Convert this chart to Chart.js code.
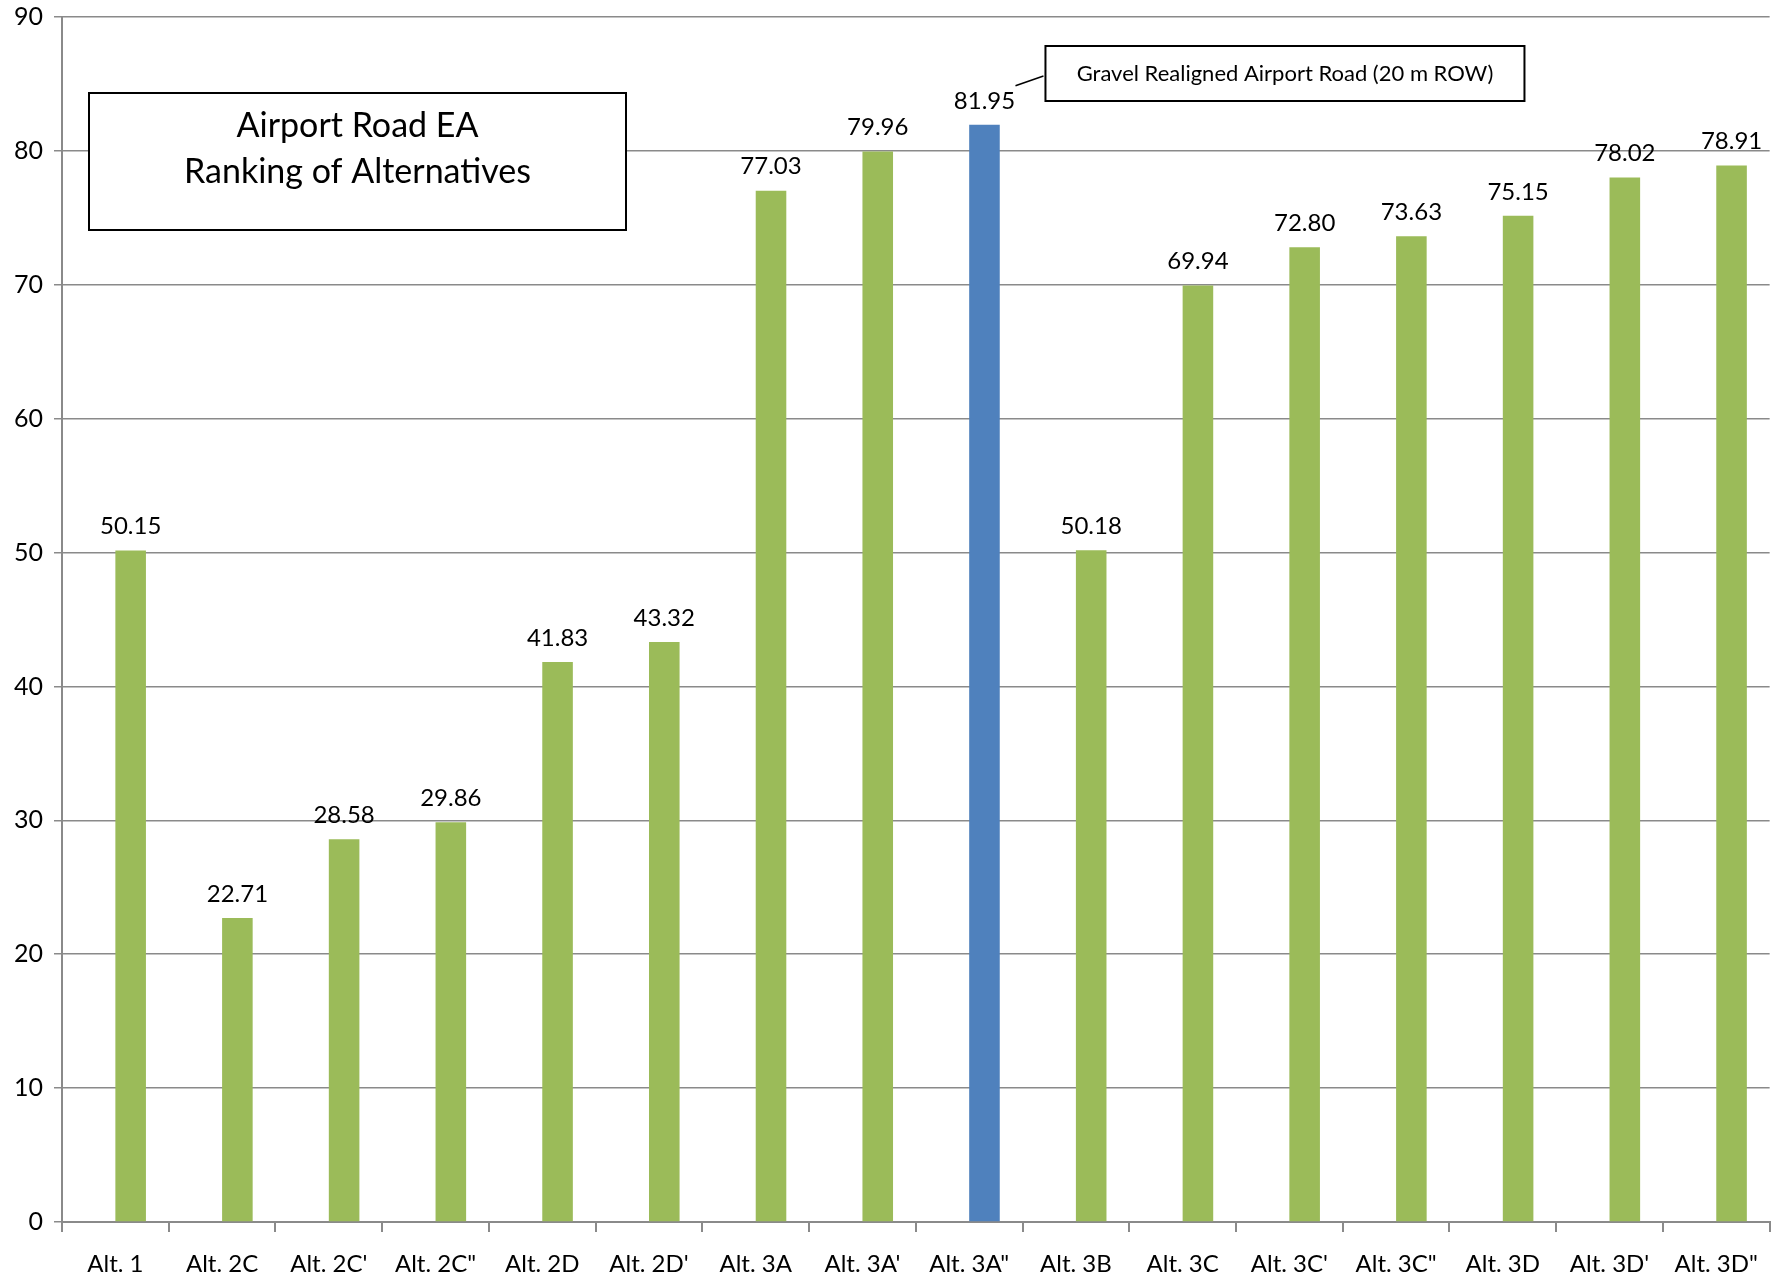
<!DOCTYPE html>
<html>
<head>
<meta charset="utf-8">
<script src="https://cdn.jsdelivr.net/npm/chart.js@4/dist/chart.umd.min.js"></script>
<style>
  html, body { margin: 0; padding: 0; background: #ffffff; }
  #wrap { width: 1776px; height: 1283px; }
</style>
</head>
<body>
<div id="wrap"><canvas id="c" width="1776" height="1283"></canvas></div>
<script>
// Alternatives and their ranking scores
const categories = ["Alt. 1", "Alt. 2C", "Alt. 2C'", "Alt. 2C\"", "Alt. 2D", "Alt. 2D'", "Alt. 3A", "Alt. 3A'", "Alt. 3A\"", "Alt. 3B", "Alt. 3C", "Alt. 3C'", "Alt. 3C\"", "Alt. 3D", "Alt. 3D'", "Alt. 3D\""];
const scores = [50.15, 22.71, 28.58, 29.86, 41.83, 43.32, 77.03, 79.96, 81.95, 50.18, 69.94, 72.80, 73.63, 75.15, 78.02, 78.91];
// first series of the workbook has no values; it only reserves the left slot
const emptySeries = categories.map(() => null);
const highlightIndex = 8;
const titleLines = ["Airport Road EA", "Ranking of Alternatives"];
const calloutText = "Gravel Realigned Airport Road (20 m ROW)";

const GREEN = '#9BBB59';
const BLUE = '#4F81BD';
const FONT = 'Lato, "Open Sans", sans-serif';

const barColors = scores.map((v, i) => i === highlightIndex ? BLUE : GREEN);

// Value labels, the title box and the callout for the highlighted bar
const overlay = {
  id: 'overlay',
  afterDatasetsDraw(chart) {
    const ctx = chart.ctx;
    const area = chart.chartArea;
    const meta = chart.getDatasetMeta(1);
    ctx.save();
    ctx.fillStyle = '#000';
    ctx.font = '24px ' + FONT;
    ctx.textAlign = 'center';
    ctx.textBaseline = 'bottom';
    meta.data.forEach((bar, i) => {
      ctx.fillText(scores[i].toFixed(2), bar.x, bar.y - 12);
    });

    // title box
    const tx = area.left + 27, ty = area.top + 76, tw = 537, th = 137;
    ctx.fillStyle = '#fff';
    ctx.fillRect(tx, ty, tw, th);
    ctx.strokeStyle = '#000';
    ctx.lineWidth = 2;
    ctx.strokeRect(tx, ty, tw, th);
    ctx.fillStyle = '#000';
    ctx.font = '34px ' + FONT;
    ctx.textBaseline = 'middle';
    ctx.fillText(titleLines[0], tx + tw / 2, ty + 33);
    ctx.fillText(titleLines[1], tx + tw / 2, ty + 79);

    // callout for the highlighted bar
    const hb = meta.data[highlightIndex];
    const bx = hb.x + 61, by = area.top + 29, bw = 479, bh = 55;
    ctx.fillStyle = '#fff';
    ctx.fillRect(bx, by, bw, bh);
    ctx.strokeRect(bx, by, bw, bh);
    ctx.fillStyle = '#000';
    ctx.font = '22px ' + FONT;
    ctx.fillText(calloutText, bx + bw / 2, by + bh / 2);
    ctx.lineWidth = 1.5;
    ctx.beginPath();
    ctx.moveTo(hb.x + 31, hb.y - 39);
    ctx.lineTo(bx - 2, by + 30);
    ctx.stroke();
    ctx.restore();
  }
};

new Chart(document.getElementById('c'), {
  type: 'bar',
  data: {
    labels: categories,
    datasets: [{
      data: emptySeries,
      backgroundColor: GREEN,
      borderWidth: 0,
      categoryPercentage: 0.573,
      barPercentage: 1
    }, {
      data: scores,
      backgroundColor: barColors,
      borderWidth: 0,
      categoryPercentage: 0.573,
      barPercentage: 1
    }]
  },
  options: {
    responsive: false,
    animation: false,
    devicePixelRatio: 1,
    layout: { padding: { top: 17, right: 2, left: 0, bottom: 0 } },
    plugins: { legend: { display: false }, tooltip: { enabled: false } },
    scales: {
      x: {
        grid: { display: true, drawOnChartArea: false, drawTicks: true, tickLength: 10, color: '#8a8a8a', lineWidth: 2, offset: true },
        border: { display: true, color: '#8a8a8a', width: 2 },
        ticks: { color: '#000', font: { size: 24, family: FONT }, padding: 18, maxRotation: 0, autoSkip: false },
        afterFit(s) { s.height = 61; }
      },
      y: {
        min: 0, max: 90,
        ticks: { stepSize: 10, color: '#000', font: { size: 25, family: FONT }, padding: 11 },
        grid: { color: '#8a8a8a', lineWidth: 1.5, tickLength: 8, drawTicks: true },
        border: { display: true, color: '#8a8a8a', width: 2 },
        afterFit(s) { s.width = 62; s.paddingTop = 0; s.paddingBottom = 0; }
      }
    }
  },
  plugins: [overlay]
});
</script>
</body>
</html>
